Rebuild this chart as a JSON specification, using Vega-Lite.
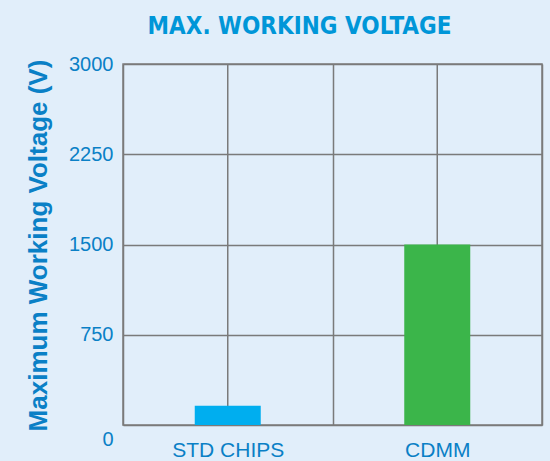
{
  "$schema": "https://vega.github.io/schema/vega-lite/v6.json",
  "autosize": "none",
  "padding": {"left": 123, "top": 64, "right": 8, "bottom": 36},
  "width": 419,
  "height": 361,
  "background": "#e1eefa",
  "title": {
    "text": "MAX. WORKING VOLTAGE",
    "font": "DejaVu Sans Condensed, sans-serif",
    "fontSize": 24,
    "fontWeight": "bold",
    "color": "#0096d8",
    "anchor": "middle",
    "frame": "group",
    "dx": -33,
    "dy": 28,
    "baseline": "alphabetic",
    "offset": 24
  },
  "config": {
    "view": {"stroke": "#7f7f7f", "strokeWidth": 1.5},
    "axis": {
      "labelFont": "Liberation Sans, Arial, sans-serif",
      "labelColor": "#0a80c6",
      "titleColor": "#0a80c6",
      "titleFont": "Liberation Sans, Arial, sans-serif",
      "gridColor": "#7a7a7a",
      "gridWidth": 1.5,
      "gridOpacity": 1,
      "domain": false,
      "ticks": false
    }
  },
  "data": {
    "values": [
      {"product": "STD CHIPS", "voltage": 160},
      {"product": "CDMM", "voltage": 1500}
    ]
  },
  "encoding": {
    "x": {
      "field": "product",
      "type": "nominal",
      "sort": null,
      "scale": {"paddingInner": 0, "paddingOuter": 0},
      "axis": {
        "title": null,
        "labelAngle": 0,
        "labelFontSize": 21,
        "labelPadding": 14,
        "grid": true,
        "tickBand": "extent"
      }
    }
  },
  "layer": [
    {
      "mark": {"type": "rule", "color": "#7a7a7a", "strokeWidth": 1.5},
      "encoding": {}
    },
    {
      "mark": {"type": "bar", "width": 66},
      "encoding": {
        "y": {
          "field": "voltage",
          "type": "quantitative",
          "scale": {"domain": [0, 3000], "nice": false},
          "axis": {
            "values": [0, 750, 1500, 2250, 3000],
            "format": "d",
            "title": "Maximum Working Voltage (V)",
            "titleFontSize": 26,
            "titleFontWeight": "bold",
            "titleAngle": 270,
            "titleAlign": "center",
            "titleBaseline": "middle",
            "titleX": -85,
            "titleY": 181,
            "labelFontSize": 20,
            "labelPadding": 10,
            "labelOffset": {"condition": {"test": "datum.value === 0", "value": 14}, "value": 0},
            "grid": true
          }
        },
        "color": {
          "field": "product",
          "type": "nominal",
          "scale": {"domain": ["STD CHIPS", "CDMM"], "range": ["#00aeef", "#3bb54a"]},
          "legend": null
        }
      }
    }
  ]
}
